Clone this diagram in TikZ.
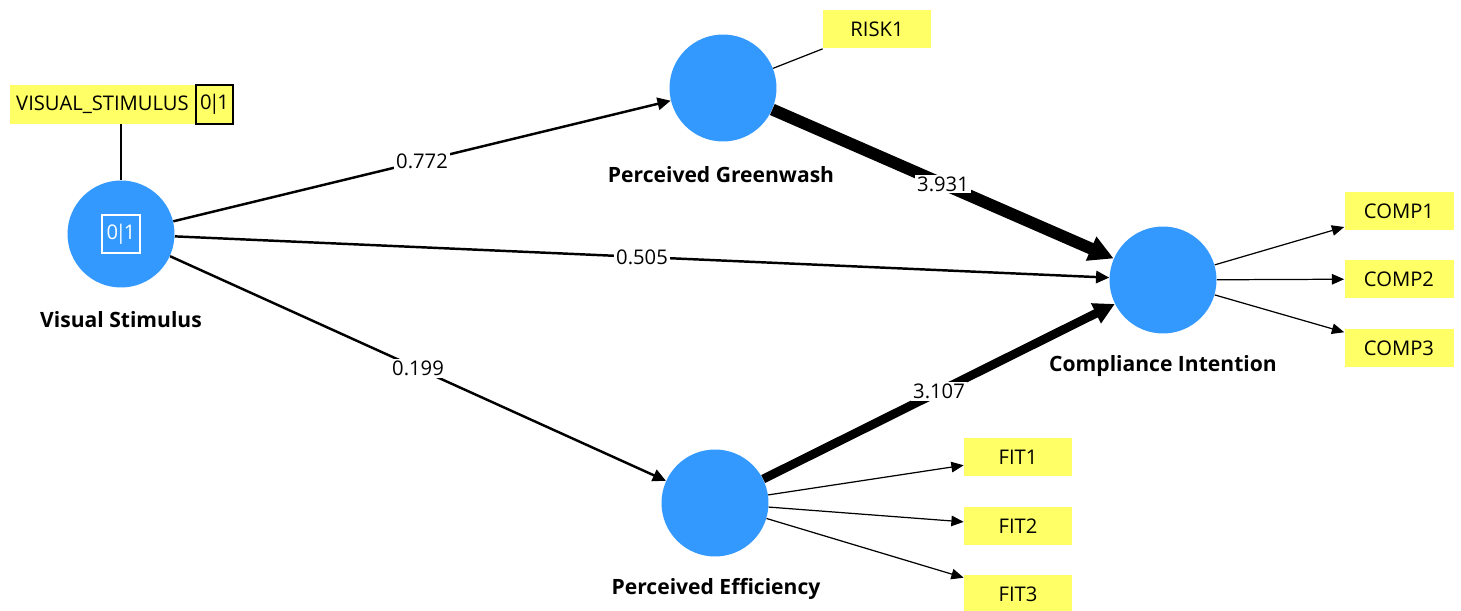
\documentclass[tikz,border=0pt]{standalone}
\usepackage{fontspec}
\setmainfont{Open Sans}
\usetikzlibrary{arrows.meta, positioning}
\definecolor{lvblue}{HTML}{3399FF}
\definecolor{indyellow}{HTML}{FFFF66}
\newcommand{\bintag}{0\kern-1.6pt|\kern-1.6pt1}

\begin{document}
\begin{tikzpicture}[
  x=0.02cm, y=-0.02cm,
  lv/.style={circle, fill=lvblue, minimum size=2.14cm, inner sep=0pt},
  lvname/.style={font=\fontsize{12}{14}\selectfont\bfseries},
  ind/.style={fill=indyellow, minimum width=#1, minimum height=0.78cm,
    inner sep=0pt, font=\fontsize{11.5}{14}\selectfont},
  ind/.default=2.18cm,
  pathc/.style={-{Triangle[length=7.5pt,width=7pt]}, line width=1.4pt},
  loading/.style={-{Triangle[length=7pt,width=6pt]}, line width=0.7pt},
  coef/.style={fill=white, inner sep=1pt, font=\fontsize{11.5}{14}\selectfont}
]
  \useasboundingbox (0,0) rectangle (1461,611);

  % Latent variables
  \node[lv] (vs) at (121,234) {};
  \node[lv] (pg) at (723,88) {};
  \node[lv] (pe) at (715,503) {};
  \node[lv] (ci) at (1163,280) {};

  \node[draw=white, line width=0.6pt, text=white, minimum size=0.76cm,
    inner sep=0pt, font=\fontsize{11.5}{14}\selectfont] (vsbin) at (vs) {\bintag};

  \node[lvname] (vsname) at (121,320) {Visual Stimulus};
  \node[lvname] (pgname) at (721,175) {Perceived Greenwash};
  \node[lvname] (pename) at (716,589) {Perceived Efficiency};
  \node[lvname] (ciname) at (1163,366) {Compliance Intention};

  % Indicators
  \node[ind=3.7cm] (vsind) at (102.5,104.5) {VISUAL\_STIMULUS};
  \node[ind=0.74cm, draw=black, line width=0.8pt, anchor=west]
    (vsindbin) at (vsind.east) {\bintag};
  \node[ind=2.16cm] (risk1) at (877,29) {RISK1};
  \node[ind] (comp1) at (1399,211) {COMP1};
  \node[ind] (comp2) at (1399,279) {COMP2};
  \node[ind] (comp3) at (1399,348) {COMP3};
  \node[ind=2.16cm] (fit1) at (1018,457) {FIT1};
  \node[ind=2.16cm] (fit2) at (1018,526) {FIT2};
  \node[ind=2.16cm] (fit3) at (1018,594) {FIT3};

  % Measurement model
  \draw[line width=0.7pt] (vs |- vsind.south) -- (vs.north);
  \draw[line width=0.7pt] (risk1.south west) -- (pg);
  \foreach \i in {1,2,3} {
    \draw[loading] (ci) -- (comp\i);
    \draw[loading] (pe) -- (fit\i);
  }

  % Structural model
  \draw[pathc] (vs) -- node[coef] (c1) {0.772} (pg);
  \draw[pathc] (vs) -- node[coef] (c2) {0.505} (ci);
  \draw[pathc] (vs) -- node[coef] (c3) {0.199} (pe);
  \draw[-{Triangle[length=14pt,width=14pt]}, line width=6.8pt]
    (pg) -- node[coef] (c4) {3.931} (ci);
  \draw[-{Triangle[length=12pt,width=12pt]}, line width=5pt]
    (pe) -- node[coef] (c5) {3.107} (ci);
\end{tikzpicture}
\end{document}
